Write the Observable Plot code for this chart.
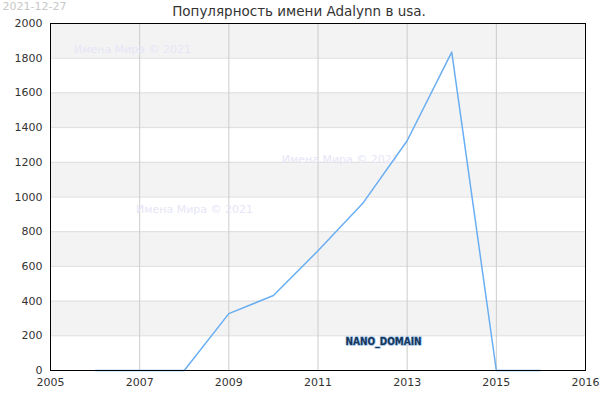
<!DOCTYPE html>
<html><head><meta charset="utf-8">
<script src="https://cdn.jsdelivr.net/npm/d3@7"></script>
<script src="https://cdn.jsdelivr.net/npm/@observablehq/plot@0.6"></script>
<style>body{margin:0;background:#fff;} svg{font-family:"DejaVu Sans",sans-serif;}</style>
</head><body><div id="chart"></div>
<script>
const years = [2006, 2007, 2008, 2009, 2010, 2011, 2012, 2013, 2014, 2015, 2016];
const counts = [0, 0, 0, 328, 432, 690, 962, 1324, 1835, 0, 0];
const yTicks = [0, 200, 400, 600, 800, 1000, 1200, 1400, 1600, 1800, 2000];
const xTickValues = [2005, 2007, 2009, 2011, 2013, 2015, 2017];
const xTickLabels = ["2005", "2007", "2009", "2011", "2013", "2015", "2016"];
const title = "Популярность имени Adalynn в usa.";
const dateText = "2021-12-27";
const watermark = "Имена Мира © 2021";
const watermarks = [{x: 2006.84, y: 1850}, {x: 2011.5, y: 1216}, {x: 2008.23, y: 928}];
const brand = [{x: 2012.47, y: 167, t: "NANO_DOMAIN"}];

const data = years.map((y, i) => ({year: y, value: counts[i]}));
const bands = [];
for (let i = 0; i < yTicks.length - 1; i++) {
  if ((yTicks.length - 2 - i) % 2 === 0) bands.push({y1: yTicks[i], y2: yTicks[i + 1]});
}
const labelMap = new Map(xTickValues.map((v, i) => [v, xTickLabels[i]]));

const chart = Plot.plot({
  width: 600, height: 400,
  marginLeft: 50, marginRight: 15, marginTop: 23, marginBottom: 30,
  style: {fontFamily: "DejaVu Sans, sans-serif", fontSize: "11px", background: "#fff"},
  x: {domain: [2005, 2017], label: null},
  y: {domain: [0, 2000], label: null},
  marks: [
    Plot.rect(bands, {y1: "y1", y2: "y2", fill: "#f3f3f3"}),
    Plot.ruleY(yTicks, {stroke: "#dddddd", strokeWidth: 1}),
    Plot.ruleX(xTickValues.slice(1, -1), {stroke: "#cccccc", strokeWidth: 1}),
    Plot.text(watermarks, {x: "x", y: "y", text: () => watermark, fill: "#e6e6f6", fontSize: 11}),
    Plot.line(data, {x: "year", y: "value", stroke: "#6aaef2", strokeWidth: 1.5}),
    Plot.text(brand, {x: "x", y: "y", text: "t", fill: "#15365a", stroke: "#9cc0e4", strokeWidth: 1.5, paintOrder: "stroke", fontSize: 10, fontWeight: "bold", fontFamily: "Liberation Sans Narrow, DejaVu Sans Condensed, sans-serif"}),
    Plot.frame({stroke: "#000", strokeWidth: 1}),
    Plot.axisY(yTicks, {tickSize: 0, tickPadding: 8, fill: "#333", fontSize: 11, tickFormat: d => String(d)}),
    Plot.axisX(xTickValues, {tickSize: 0, tickPadding: 8, fill: "#333", fontSize: 11, tickFormat: d => labelMap.get(d)}),
    Plot.text([title], {frameAnchor: "top", lineAnchor: "middle", dx: -19, dy: -12, text: d => d, fill: "#333", fontSize: 13.5}),
    Plot.text([dateText], {frameAnchor: "top-left", lineAnchor: "middle", dx: -48, dy: -17, textAnchor: "start", text: d => d, fill: "#c8c8c8", fontSize: 11})
  ]
});
document.getElementById("chart").appendChild(chart);
</script></body></html>
